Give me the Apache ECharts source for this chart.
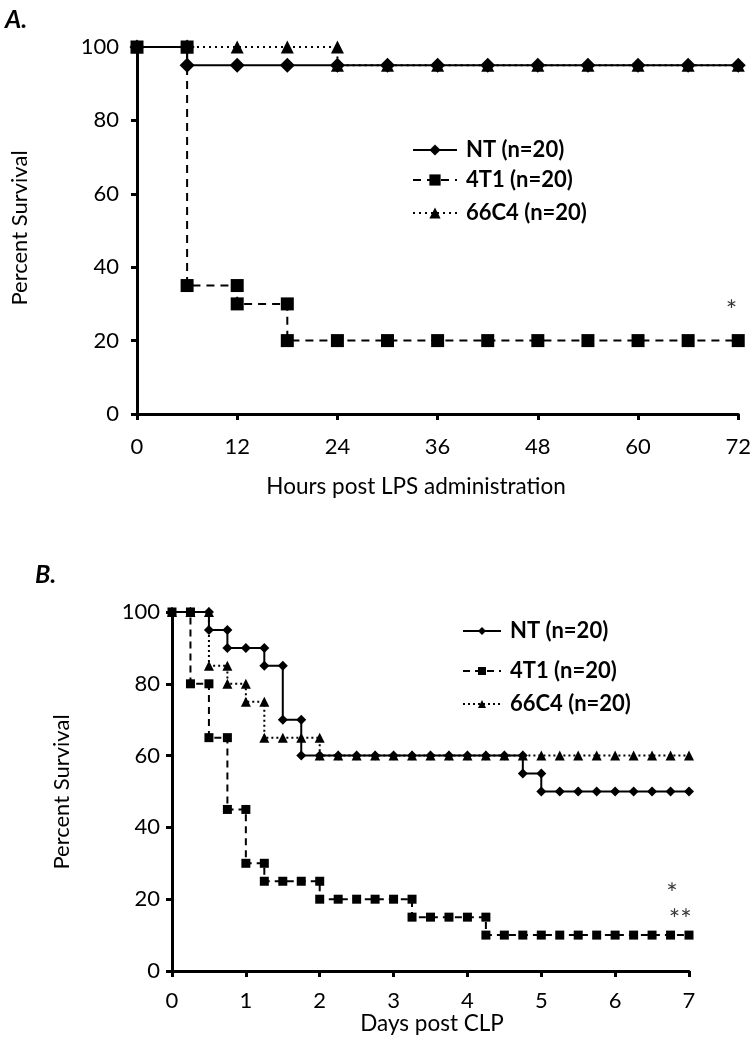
<!DOCTYPE html>
<html><head><meta charset="utf-8">
<script src="https://cdn.jsdelivr.net/npm/echarts@6/dist/echarts.min.js"></script>
<style>html,body{margin:0;padding:0;background:#fff}#c{width:754px;height:1050px}</style>
</head><body><div id="c"></div>
<script>
// ---------- Panel A (hours post LPS) ----------
const ticksA_x = [0, 12, 24, 36, 48, 60, 72];
const ticksA_y = [0, 20, 40, 60, 80, 100];
const ntA_x  = [0, 6, 6, 12, 18, 24, 30, 36, 42, 48, 54, 60, 66, 72];
const ntA_y  = [100, 100, 95, 95, 95, 95, 95, 95, 95, 95, 95, 95, 95, 95];
const t1A_x  = [0, 6, 6, 12, 12, 18, 18, 24, 30, 36, 42, 48, 54, 60, 66, 72];
const t1A_y  = [100, 100, 35, 35, 30, 30, 20, 20, 20, 20, 20, 20, 20, 20, 20, 20];
const c4A_x  = [0, 6, 12, 18, 24, 24, 30, 36, 42, 48, 54, 60, 66, 72];
const c4A_y  = [100, 100, 100, 100, 100, 95, 95, 95, 95, 95, 95, 95, 95, 95];
const starA_x = [71.2];
const starA_y = [28];
const starA_t = ['*'];

// ---------- Panel B (days post CLP) ----------
const ticksB_x = [0, 1, 2, 3, 4, 5, 6, 7];
const ticksB_y = [0, 20, 40, 60, 80, 100];
const ntB_x = [0, 0.25, 0.5, 0.5, 0.75, 0.75, 1, 1.25, 1.25, 1.5, 1.5, 1.75, 1.75, 2, 2.25, 2.5, 2.75, 3, 3.25, 3.5, 3.75, 4, 4.25, 4.5, 4.75, 4.75, 5, 5, 5.25, 5.5, 5.75, 6, 6.25, 6.5, 6.75, 7];
const ntB_y = [100, 100, 100, 95, 95, 90, 90, 90, 85, 85, 70, 70, 60, 60, 60, 60, 60, 60, 60, 60, 60, 60, 60, 60, 60, 55, 55, 50, 50, 50, 50, 50, 50, 50, 50, 50];
const t1B_x = [0, 0.25, 0.25, 0.5, 0.5, 0.75, 0.75, 1, 1, 1.25, 1.25, 1.5, 1.75, 2, 2, 2.25, 2.5, 2.75, 3, 3.25, 3.25, 3.5, 3.75, 4, 4.25, 4.25, 4.5, 4.75, 5, 5.25, 5.5, 5.75, 6, 6.25, 6.5, 6.75, 7];
const t1B_y = [100, 100, 80, 80, 65, 65, 45, 45, 30, 30, 25, 25, 25, 25, 20, 20, 20, 20, 20, 20, 15, 15, 15, 15, 15, 10, 10, 10, 10, 10, 10, 10, 10, 10, 10, 10, 10];
const c4B_x = [0, 0.25, 0.5, 0.5, 0.75, 0.75, 1, 1, 1.25, 1.25, 1.5, 1.75, 2, 2, 2.25, 2.5, 2.75, 3, 3.25, 3.5, 3.75, 4, 4.25, 4.5, 4.75, 5, 5.25, 5.5, 5.75, 6, 6.25, 6.5, 6.75, 7];
const c4B_y = [100, 100, 100, 85, 85, 80, 80, 75, 75, 65, 65, 65, 65, 60, 60, 60, 60, 60, 60, 60, 60, 60, 60, 60, 60, 60, 60, 60, 60, 60, 60, 60, 60, 60];
const starB_x = [6.77, 6.88];
const starB_y = [21.5, 14];
const starB_t = ['*', '**'];

const names = ['NT (n=20)', '4T1 (n=20)', '66C4 (n=20)'];

const FONT = 'Lato, "Open Sans", sans-serif';
const zip = (xs, ys) => xs.map((x, i) => [x, ys[i]]);

function axisX(grid, min, max, interval, margin) {
  return {
    type: 'value', gridIndex: grid, min, max, interval,
    axisLine: { show: true, onZero: false, lineStyle: { color: '#000', width: 3 } },
    axisTick: { show: true, length: 6, lineStyle: { color: '#000', width: 3 } },
    axisLabel: { color: '#000', fontSize: 22, fontFamily: FONT, margin },
    splitLine: { show: false }
  };
}
function axisY(grid, margin) {
  return {
    type: 'value', gridIndex: grid, min: 0, max: 100, interval: 20,
    axisLine: { show: true, onZero: false, lineStyle: { color: '#000', width: 3 } },
    axisTick: { show: true, length: 6, lineStyle: { color: '#000', width: 3 } },
    axisLabel: { color: '#000', fontSize: 22, fontFamily: FONT, margin },
    splitLine: { show: false }
  };
}
function lineSeries(name, grid, xs, ys, symbol, size, type, width, z) {
  return {
    name, type: 'line', xAxisIndex: grid, yAxisIndex: grid,
    data: zip(xs, ys), symbol, symbolSize: size, showSymbol: true,
    itemStyle: { color: '#000', opacity: 1 },
    lineStyle: { color: '#000', width, type },
    animation: false, z
  };
}
function starSeries(grid, xs, ys, ts) {
  return {
    type: 'scatter', xAxisIndex: grid, yAxisIndex: grid,
    data: xs.map((x, i) => ({ value: [x, ys[i]], label: { formatter: ts[i] } })),
    symbolSize: 1, itemStyle: { color: 'rgba(0,0,0,0)' },
    label: { show: true, position: 'inside', color: '#000', fontSize: 27, fontFamily: FONT },
    animation: false, silent: true
  };
}
function legendItem(name, left, centerY, w, h) {
  return {
    data: [name], orient: 'vertical', left, top: centerY - 13, padding: 0,
    itemWidth: w, itemHeight: h,
    formatter: n => n.slice(2),
    textStyle: { color: '#000', fontSize: 22, fontWeight: 'bold', fontFamily: FONT, padding: [0, 0, 0, 4], lineHeight: 26 },
    selectedMode: false
  };
}

const option = {
  backgroundColor: '#fff',
  animation: false,
  grid: [
    { left: 137, top: 47, width: 603, height: 367 },
    { left: 172, top: 612, width: 517, height: 359 }
  ],
  xAxis: [axisX(0, 0, 72, 12, 22), axisX(1, 0, 7, 1, 19)],
  yAxis: [axisY(0, 18), axisY(1, 12)],
  legend: [
    legendItem('A:' + names[0], 412, 150, 44, 14),
    legendItem('A:' + names[1], 412, 180, 44, 14),
    legendItem('A:' + names[2], 412, 213, 44, 14),
    legendItem('B:' + names[0], 462, 631, 38, 10),
    legendItem('B:' + names[1], 462, 671, 38, 10),
    legendItem('B:' + names[2], 462, 704, 38, 10)
  ],
  graphic: [
    { type: 'text', left: 5, top: 7, style: { text: 'A.', font: 'italic bold 25px ' + FONT, fill: '#000' } },
    { type: 'text', left: 35, top: 562, style: { text: 'B.', font: 'italic bold 25px ' + FONT, fill: '#000' } },
    { type: 'text', x: 20, y: 228, rotation: Math.PI / 2, style: { text: 'Percent Survival', font: '22px ' + FONT, fill: '#000', align: 'center', verticalAlign: 'middle' } },
    { type: 'text', x: 416, y: 487, style: { text: 'Hours post LPS administration', font: '22.5px ' + FONT, fill: '#000', align: 'center', verticalAlign: 'middle' } },
    { type: 'text', x: 62, y: 792, rotation: Math.PI / 2, style: { text: 'Percent Survival', font: '22px ' + FONT, fill: '#000', align: 'center', verticalAlign: 'middle' } },
    { type: 'text', x: 432, y: 1024, style: { text: 'Days post CLP', font: '22.5px ' + FONT, fill: '#000', align: 'center', verticalAlign: 'middle' } }
  ],
  series: [
    lineSeries('A:' + names[2], 0, c4A_x, c4A_y, 'triangle', 13, [2, 4], 2, 3),
    lineSeries('A:' + names[1], 0, t1A_x, t1A_y, 'rect', 13, [8, 6], 2, 4),
    lineSeries('A:' + names[0], 0, ntA_x, ntA_y, 'diamond', 15, 'solid', 2, 5),
    starSeries(0, starA_x, starA_y, starA_t),
    lineSeries('B:' + names[2], 1, c4B_x, c4B_y, 'triangle', 10, [2, 3], 2, 3),
    lineSeries('B:' + names[1], 1, t1B_x, t1B_y, 'rect', 9, [7, 5], 2, 4),
    lineSeries('B:' + names[0], 1, ntB_x, ntB_y, 'diamond', 10, 'solid', 2, 5),
    starSeries(1, starB_x, starB_y, starB_t)
  ]
};
const chart = echarts.init(document.getElementById('c'), null, { renderer: 'canvas' });
chart.setOption(option);
</script>
</body></html>
